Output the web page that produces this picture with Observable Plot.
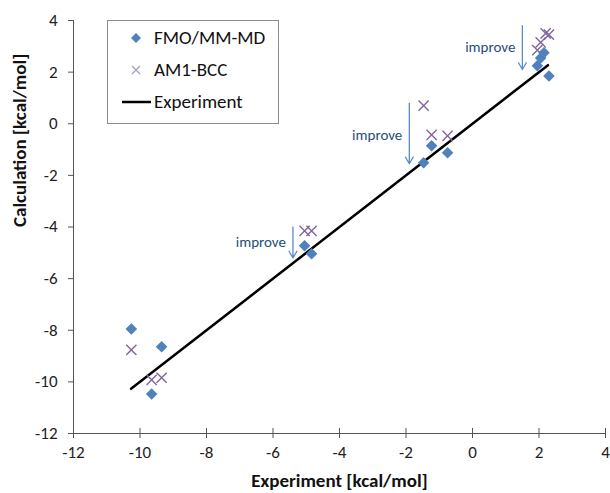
<!DOCTYPE html>
<html>
<head>
<meta charset="utf-8">
<script src="https://cdn.jsdelivr.net/npm/d3@7"></script>
<script src="https://cdn.jsdelivr.net/npm/@observablehq/plot@0.6"></script>
<style>
  body { margin: 0; background: #fff; }
  #wrap { position: relative; width: 610px; height: 493px; font-family: Carlito, Calibri, "Liberation Sans", sans-serif; }
  #legend { position: absolute; left: 107px; top: 20px; width: 170px; height: 102px; border: 1px solid #8c8c8c; background: #fff; font-size: 19px; color: #111; }
  #legend .row { position: absolute; left: 0; height: 20px; }
  #legend svg { position: absolute; left: 0; top: 0; }
  #legend span { position: absolute; left: 46px; top: 0; line-height: 20px; white-space: nowrap; }
</style>
</head>
<body>
<div id="wrap"></div>
<script>
// Data (kcal/mol)
const fmoExp  = [-10.26, -9.35, -9.65, -5.05, -4.84, -1.47, -1.23, -0.75, 1.95, 2.05, 2.15, 2.30];
const fmoCalc = [-7.95, -8.64, -10.47, -4.73, -5.04, -1.51, -0.85, -1.12, 2.25, 2.55, 2.75, 1.85];
const am1Exp  = [-10.26, -9.65, -9.35, -5.05, -4.84, -1.47, -1.23, -0.75, 1.95, 2.05, 2.20, 2.30];
const am1Calc = [-8.76, -9.92, -9.84, -4.15, -4.15, 0.70, -0.43, -0.47, 2.85, 3.15, 3.50, 3.45];
const expLine = [-10.27, 2.27];
const ticks = [-12, -10, -8, -6, -4, -2, 0, 2, 4];
// "improve" annotations
const improveX  = [1.5, -1.9, -5.4];
const improveY1 = [3.8, 0.8, -4.0];
const improveY2 = [2.1, -1.55, -5.2];
const improveLabelY = [2.95, -0.43, -4.57];
const improveLabel = "improve";

const fmo = fmoExp.map((x, i) => ({x, y: fmoCalc[i]}));
const am1 = am1Exp.map((x, i) => ({x, y: am1Calc[i]}));
const ann = improveX.map((x, i) => ({x, y1: improveY1[i], y2: improveY2[i], ly: improveLabelY[i]}));

const fmt = d => String(d);
const font = "Carlito, Calibri, 'Liberation Sans', sans-serif";

const chart = Plot.plot({
  width: 610, height: 493,
  marginLeft: 73, marginRight: 5, marginTop: 20, marginBottom: 60,
  x: {domain: [-12, 4]},
  y: {domain: [-12, 4]},
  style: {fontFamily: font, fontSize: "17px", color: "#222", background: "#fff"},
  marks: [
    Plot.axisY({ticks, tickSize: 5, tickPadding: 11, tickFormat: fmt, label: null, stroke: "#555"}),
    Plot.axisX({ticks, tickSize: 0, tickPadding: 12, tickFormat: fmt, label: null}),
    Plot.ruleX(ticks, {x: d => d, y1: -12, y2: -12, insetTop: -5, insetBottom: -5, stroke: "#555"}),
    Plot.ruleX([-12], {stroke: "#555"}),
    Plot.ruleY([-12], {stroke: "#555"}),
    Plot.line(expLine, {x: d => d, y: d => d, stroke: "#000", strokeWidth: 2.5}),
    Plot.dot(am1, {x: "x", y: "y", symbol: "times", r: 4.7, stroke: "#8064a2", strokeWidth: 1.4, fill: "none"}),
    Plot.dot(fmo, {x: "x", y: "y", symbol: "diamond2", r: 5.2, fill: "#4f81bd", stroke: "none"}),
    Plot.arrow(ann, {x1: "x", x2: "x", y1: "y1", y2: "y2", stroke: "#5b8cc7", strokeWidth: 1.3, headLength: 9, bend: 0}),
    Plot.text(ann, {x: "x", y: "ly", text: () => improveLabel, textAnchor: "end", dx: -7, fill: "#1f4e79", fontSize: 15}),
    Plot.text(["Experiment [kcal/mol]"], {frameAnchor: "bottom", dy: 53, fontWeight: "bold", fontSize: 19, fill: "#111"}),
    Plot.text(["Calculation [kcal/mol]"], {frameAnchor: "left", dx: -54, rotate: -90, fontWeight: "bold", fontSize: 19, fill: "#111"})
  ]
});

const wrap = document.getElementById("wrap");
wrap.appendChild(chart);

const legendItems = [
  {label: "FMO/MM-MD", type: "diamond"},
  {label: "AM1-BCC", type: "times"},
  {label: "Experiment", type: "line"}
];
const lg = document.createElement("div");
lg.id = "legend";
legendItems.forEach((it, i) => {
  const row = document.createElement("div");
  row.className = "row";
  row.style.top = (7 + i * 32) + "px";
  row.style.width = "170px";
  let sym = "";
  if (it.type === "diamond") sym = `<path d="M28,5 L33,10 L28,15 L23,10 Z" fill="#4f81bd"/>`;
  else if (it.type === "times") sym = `<path d="M24,6 L32,14 M32,6 L24,14" stroke="#a899c4" stroke-width="1.2" fill="none"/>`;
  else sym = `<line x1="14" x2="43" y1="10" y2="10" stroke="#000" stroke-width="2.5"/>`;
  row.innerHTML = `<svg width="46" height="20">${sym}</svg><span>${it.label}</span>`;
  lg.appendChild(row);
});
wrap.appendChild(lg);
</script>
</body>
</html>
